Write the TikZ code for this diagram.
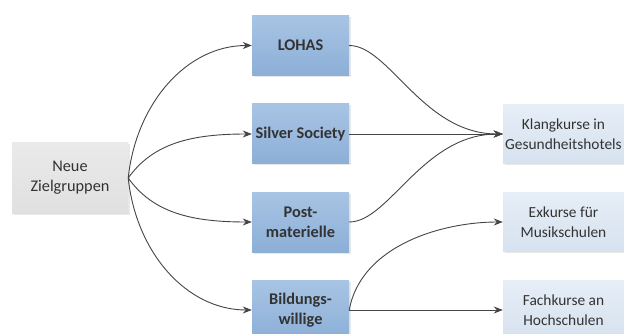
\documentclass[tikz,border=0pt]{standalone}
\usepackage{fontspec}
\setmainfont{Carlito}
\usetikzlibrary{shadows,arrows.meta}
\definecolor{txt}{HTML}{333333}
\definecolor{linec}{HTML}{454545}
\definecolor{midtop}{HTML}{A8C4E4}
\definecolor{midbot}{HTML}{8CAFD7}
\definecolor{rtop}{HTML}{E6EEF7}
\definecolor{rbot}{HTML}{D6E2EF}
\definecolor{gtop}{HTML}{EAEAEA}
\definecolor{gbot}{HTML}{E0E0E0}
\begin{document}
\begin{tikzpicture}[x=1pt,y=-1pt,
  box/.style={inner sep=0pt, align=center, text=txt,
    font=\fontsize{16.3}{20}\selectfont,
    drop shadow={shadow xshift=1.5pt, shadow yshift=-1.5pt, opacity=0.18}},
  greybox/.style={box, top color=gtop, bottom color=gbot, minimum width=116pt, minimum height=70pt},
  midbox/.style={box, top color=midtop, bottom color=midbot, minimum width=97pt, minimum height=60pt, font=\fontsize{16.3}{20}\selectfont\bfseries},
  rbox/.style={box, top color=rtop, bottom color=rbot, minimum width=121pt, minimum height=59pt, font=\fontsize{15.4}{20}\selectfont},
  conn/.style={draw=linec, line width=0.9pt, -{Stealth[length=9pt,width=7pt]}}
]
\useasboundingbox[fill=white] (0,0) rectangle (624,334);

\node[greybox] (neue) at (70,178) {Neue\\Zielgruppen};

\node[midbox] (lohas) at (300.5,45.5) {LOHAS};
\node[midbox] (silver) at (300.5,134) {Silver Society};
\node[midbox] (post) at (300.5,222) {Post-\\materielle};
\node[midbox] (bild) at (300.5,310) {Bildungs-\\willige};

\node[rbox] (klang) at (563.5,134) {Klangkurse in\\Gesundheitshotels};
\node[rbox] (exk) at (563.5,222) {Exkurse für\\Musikschulen};
\node[rbox] (fach) at (563.5,310) {Fachkurse an\\Hochschulen};

\draw[conn] (neue.east) .. controls +(8,-75) and +(-65,0) .. (lohas.west);
\draw[conn] (neue.east) .. controls +(25,-35) and +(-60,0) .. (silver.west);
\draw[conn] (neue.east) .. controls +(25,35) and +(-60,0) .. (post.west);
\draw[conn] (neue.east) .. controls +(8,75) and +(-65,0) .. (bild.west);

\draw[conn] (lohas.east) .. controls +(40,0) and +(-80,0) .. (klang.west);
\draw[conn] (silver.east) -- (klang.west);
\draw[conn] (post.east) .. controls +(40,0) and +(-80,0) .. (klang.west);
\draw[conn] (bild.east) .. controls +(12,-65) and +(-60,0) .. (exk.west);
\draw[conn] (bild.east) -- (fach.west);
\end{tikzpicture}
\end{document}
